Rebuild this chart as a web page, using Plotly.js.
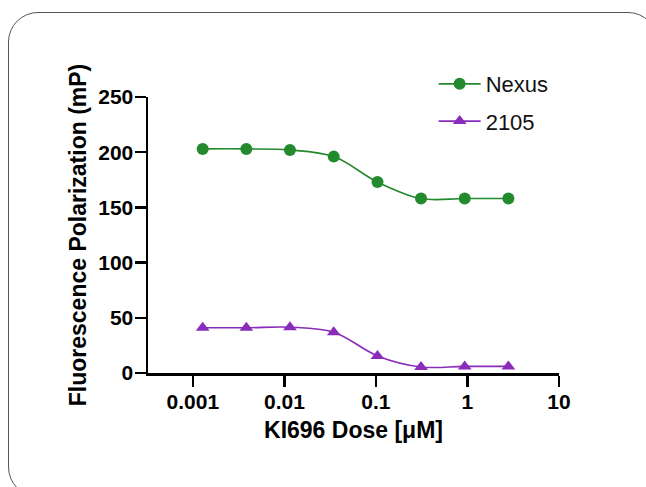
<!DOCTYPE html>
<html>
<head>
<meta charset="utf-8">
<script src="https://cdn.plot.ly/plotly-3.0.1.min.js"></script>
<style>
  html, body { margin: 0; padding: 0; background: #ffffff; }
  #wrap { position: relative; width: 646px; height: 487px; overflow: hidden; }
  #chart { position: absolute; left: 0; top: 0; width: 646px; height: 487px; }
  #frame { position: absolute; left: 8px; top: 12px; width: 650px; height: 485px;
           border: 1.3px solid #555555; border-radius: 30px; pointer-events: none; box-sizing: border-box; }
</style>
</head>
<body>
<div id="wrap">
  <div id="chart"></div>
  <div id="frame"></div>
</div>
<script>
// KI696 dose (µM), 3-fold serial dilution
const dose = [0.00128, 0.00384, 0.0115, 0.0346, 0.104, 0.311, 0.933, 2.8];
// Fluorescence polarization (mP)
const nexusFP = [203, 203, 202, 196, 173, 158, 158, 158];
const fp2105 = [41, 41, 41.5, 37, 15.5, 5.5, 6, 6];
const seriesNames = ["Nexus", "2105"];
const tickVals = [0.001, 0.01, 0.1, 1, 10];
const tickText = ["0.001", "0.01", "0.1", "1", "10"];

const green = "#238a2e";
const purple = "#8a2cba";
const fontFam = "Liberation Sans, Arial, Helvetica, sans-serif";

const traces = [
  {
    x: dose, y: nexusFP, name: seriesNames[0], type: "scatter", mode: "lines+markers",
    line: { color: green, width: 1.6, shape: "spline", smoothing: 1 },
    marker: { symbol: "circle", size: 12, color: green },
    legend: "legend"
  },
  {
    x: dose, y: fp2105, name: seriesNames[1], type: "scatter", mode: "lines+markers",
    line: { color: purple, width: 1.6, shape: "spline", smoothing: 1 },
    marker: { symbol: "triangle-up", size: 12, color: purple },
    legend: "legend2"
  }
];

const layout = {
  width: 646, height: 487,
  margin: { l: 148, r: 87, t: 97, b: 114 },
  paper_bgcolor: "rgba(0,0,0,0)",
  plot_bgcolor: "rgba(0,0,0,0)",
  font: { family: fontFam, color: "#000000" },
  showlegend: true,
  legend: {
    x: 0.695, y: 1.047, xanchor: "left", yanchor: "middle", itemwidth: 42,
    font: { family: fontFam, size: 22, color: "#111111" },
    bgcolor: "rgba(0,0,0,0)", borderwidth: 0
  },
  legend2: {
    x: 0.695, y: 0.912, xanchor: "left", yanchor: "middle", itemwidth: 42,
    font: { family: fontFam, size: 22, color: "#111111" },
    bgcolor: "rgba(0,0,0,0)", borderwidth: 0
  },
  xaxis: {
    type: "log",
    range: [-3.49, 1],
    tickvals: tickVals, ticktext: tickText,
    showgrid: false, zeroline: false,
    showline: true, linecolor: "#000000", linewidth: 2.5,
    ticks: "outside", ticklen: 11, tickwidth: 2.5, tickcolor: "#000000",
    ticklabelstandoff: -3,
    tickfont: { family: fontFam, size: 21, weight: "bold", color: "#000000" },
    title: { text: "KI696 Dose [μM]", font: { family: fontFam, size: 23, weight: "bold", color: "#000000" }, standoff: 10 }
  },
  yaxis: {
    range: [0, 250],
    tickvals: [0, 50, 100, 150, 200, 250],
    showgrid: false, zeroline: false,
    showline: true, linecolor: "#000000", linewidth: 2.5,
    ticks: "outside", ticklen: 11, tickwidth: 2.5, tickcolor: "#000000",
    ticklabelstandoff: -3,
    tickfont: { family: fontFam, size: 21, weight: "bold", color: "#000000" },
    title: { text: "Fluorescence Polarization (mP)", font: { family: fontFam, size: 23, weight: "bold", color: "#000000" }, standoff: 5 }
  }
};

Plotly.newPlot("chart", traces, layout, { displayModeBar: false, staticPlot: true });
</script>
</body>
</html>
